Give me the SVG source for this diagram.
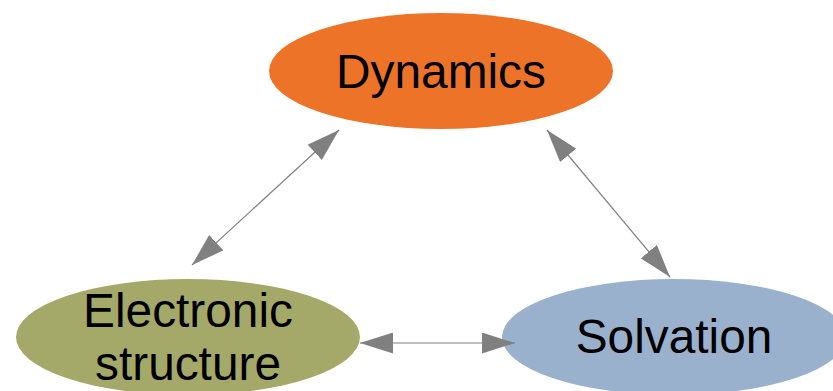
<svg xmlns="http://www.w3.org/2000/svg" width="833" height="391" viewBox="0 0 833 391">
<style>
.lbl{font-family:"Liberation Sans",Arial,sans-serif;font-size:47.8px;fill:#000;text-anchor:middle}
.con{stroke:#808080;stroke-width:1.2;fill:none;marker-start:url(#ah);marker-end:url(#ah)}
</style>
<defs>
<marker id="ah" viewBox="0 0 33 21" refX="33" refY="10.5" markerWidth="33" markerHeight="21" markerUnits="userSpaceOnUse" orient="auto-start-reverse">
<path d="M0,0 L33,10.5 L0,21 z" fill="#808080"/>
</marker>
</defs>
<rect width="833" height="391" fill="#fff"/>
<g id="dynamics">
<ellipse cx="441" cy="71" rx="172" ry="58" fill="#ED7328"/>
<text class="lbl" x="441" y="88">Dynamics</text>
</g>
<g id="electronic">
<ellipse cx="188" cy="337" rx="172" ry="58" fill="#A4A96A"/>
<text class="lbl" x="188" y="327">Electronic</text>
<text class="lbl" x="188" y="380">structure</text>
</g>
<g id="solvation">
<ellipse cx="674" cy="337" rx="172" ry="58" fill="#9AB1CD"/>
<text class="lbl" x="674" y="353">Solvation</text>
</g>
<g id="connectors">
<line class="con" x1="192" y1="265" x2="339" y2="130"/>
<line class="con" x1="547" y1="130" x2="670" y2="277"/>
<line class="con" x1="360" y1="343" x2="515" y2="343"/>
</g>
</svg>
